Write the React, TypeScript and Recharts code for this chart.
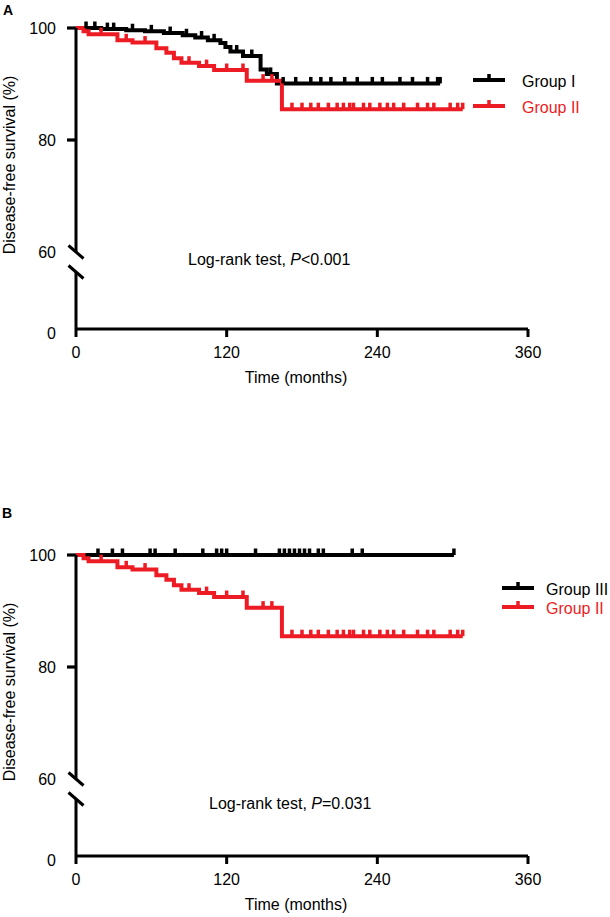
import { ComposedChart, Line, Scatter, XAxis, YAxis, Legend } from "recharts";

// axis ticks
const xTicks = [0, 120, 240, 360];
const yTickLabels = [0, 60, 80, 100];
const BREAK_AT = 60;
const LOWER_SPAN = 13.75; // axis units the 0–60 stub takes below the break

// Group I (panel A, black)
const group1Time = [0, 20, 40, 55, 70, 85, 95, 105, 115, 119, 123, 133, 147, 152, 160, 290];
const group1Surv = [100, 99.8, 99.6, 99.4, 99.1, 98.7, 98.3, 97.8, 97.3, 96.6, 95.8, 95.0, 92.6, 91.8, 90.1, 90.1];
const group1Censor = [8, 15, 25, 30, 45, 60, 75, 88, 100, 110, 128, 140, 155, 165, 175, 187, 195, 203, 214, 224, 236, 244, 258, 268, 280, 288, 290];

// Group II (both panels, red)
const group2Time = [0, 6, 10, 33, 45, 64, 72, 78, 84, 98, 110, 136, 164, 308];
const group2Surv = [100, 99.4, 98.9, 97.8, 97.4, 96.4, 95.6, 94.6, 93.8, 93.2, 92.5, 90.6, 85.5, 85.5];
const group2Censor = [20, 40, 55, 90, 104, 120, 133, 149, 156, 172, 180, 187, 193, 201, 208, 213, 218, 221, 229, 234, 242, 248, 253, 261, 272, 280, 285, 298, 304, 308];

// Group III (panel B, black)
const group3Time = [0, 301];
const group3Surv = [100, 100];
const group3Censor = [17.5, 29, 37, 59, 63, 79, 101, 112, 116, 120, 143, 162, 166, 170, 174, 178, 182, 186, 193, 197, 220, 228, 301];

const RED = "#ED1C24";
const FONT = "'Liberation Sans', Arial, sans-serif";
const PLOT_LEFT = 76; // margin.left + YAxis width

const toAxis = (v: number) =>
  v >= BREAK_AT ? v : BREAK_AT - ((BREAK_AT - v) * LOWER_SPAN) / BREAK_AT;
const yTickPos = yTickLabels.map(toAxis);

const steps = (times: number[], surv: number[]) =>
  times.map((t, i) => ({ t, s: toAxis(surv[i]) }));

const censorPoints = (times: number[], surv: number[], censor: number[]) =>
  censor.map((c) => {
    let s = surv[0];
    times.forEach((t, i) => {
      if (t <= c) s = surv[i];
    });
    return { t: c, s: toAxis(s) };
  });

interface Series {
  name: string;
  color: string;
  times: number[];
  surv: number[];
  censor: number[];
}

// y tick: label + tick mark, with the axis break drawn at the 60 tick
function YTick(props: any) {
  const { y, payload } = props;
  const axisX = PLOT_LEFT;
  const idx = yTickPos.findIndex((p) => Math.abs(p - payload.value) < 1e-6);
  const label = yTickLabels[idx];
  return (
    <g>
      {label !== 0 && label !== BREAK_AT && (
        <rect x={axisX - 9} y={y - 1.6} width={9} height={3.2} fill="#000" stroke="none" />
      )}
      {label === BREAK_AT && (
        <g>
          <rect x={axisX - 3} y={y} width={6} height={20} fill="#fff" stroke="none" />
          <line x1={axisX - 7.5} y1={y - 6.5} x2={axisX + 7.5} y2={y + 6.5} stroke="#000" strokeWidth={3} />
          <line x1={axisX - 7.5} y1={y + 13.5} x2={axisX + 7.5} y2={y + 26.5} stroke="#000" strokeWidth={3} />
        </g>
      )}
      <text
        x={axisX - 20}
        y={y + (label === 0 ? 4 : 0)}
        dy="0.355em"
        textAnchor="end"
        fontSize={16}
        fontFamily={FONT}
        fill="#000"
        stroke="none"
      >
        {label}
      </text>
    </g>
  );
}

const censorShape = (color: string) => (p: any) =>
  <rect x={p.cx - 1.75} y={p.cy - 6.5} width={3.5} height={6.5} fill={color} />;

function LegendBox({ series, lineX, textX, rowYs }: { series: Series[]; lineX: number; textX: number; rowYs: number[] }) {
  return (
    <div style={{ position: "relative", width: 140, height: 60, fontFamily: FONT }}>
      {series.map((s, i) => (
        <div key={s.name}>
          <svg
            width={32}
            height={16}
            style={{ position: "absolute", left: 0, top: rowYs[i] - rowYs[0] }}
          >
            <line x1={0} x2={32} y1={9} y2={9} stroke={s.color} strokeWidth={4} />
            <rect x={14.25} y={3} width={3.5} height={6} fill={s.color} />
          </svg>
          <div
            style={{
              position: "absolute",
              left: textX - lineX,
              top: rowYs[i] - rowYs[0] + 3,
              fontSize: 16,
              lineHeight: "16px",
              color: s.color,
              whiteSpace: "nowrap",
            }}
          >
            {s.name}
          </div>
        </div>
      ))}
    </div>
  );
}

function Panel({
  series,
  legendX,
  legendTextX,
  legendYs,
}: {
  series: Series[];
  legendX: number;
  legendTextX: number;
  legendYs: number[];
}) {
  return (
    <ComposedChart width={610} height={390} margin={{ top: 28, right: 82, bottom: 1, left: 16 }}>
      <XAxis
        dataKey="t"
        type="number"
        domain={[0, 360]}
        ticks={xTicks}
        interval={0}
        height={60}
        axisLine={{ stroke: "#000", strokeWidth: 3 }}
        tickLine={{ stroke: "#000", strokeWidth: 3 }}
        tickSize={8}
        tickMargin={10}
        tick={{ fontSize: 16, fill: "#000", fontFamily: FONT }}
        label={{
          content: () => (
            <text x={296} y={383} textAnchor="middle" fontSize={16} fontFamily={FONT} fill="#000">
              Time (months)
            </text>
          ),
        }}
      />
      <YAxis
        dataKey="s"
        type="number"
        domain={[yTickPos[0], 100]}
        ticks={yTickPos}
        interval={0}
        width={60}
        axisLine={{ stroke: "#000", strokeWidth: 3 }}
        tickLine={false}
        tickSize={8}
        tickMargin={12}
        tick={<YTick />}
        label={{
          content: () => (
            <text
              x={15}
              y={165}
              transform="rotate(-90 15 165)"
              textAnchor="middle"
              fontSize={16}
              fontFamily={FONT}
              fill="#000"
            >
              Disease-free survival (%)
            </text>
          ),
        }}
      />
      {series.map((s) => (
        <Line
          key={s.name + "-line"}
          data={steps(s.times, s.surv)}
          dataKey="s"
          type="stepAfter"
          stroke={s.color}
          strokeWidth={4}
          dot={false}
          isAnimationActive={false}
        />
      ))}
      {series.map((s) => (
        <Scatter
          key={s.name + "-censor"}
          data={censorPoints(s.times, s.surv, s.censor)}
          dataKey="s"
          shape={censorShape(s.color)}
          isAnimationActive={false}
        />
      ))}
      <Legend
        layout="vertical"
        align="center"
        verticalAlign="middle"
        wrapperStyle={{ left: legendX, top: legendYs[0] - 9, width: 140, height: 60 }}
        content={() => (
          <LegendBox series={series} lineX={legendX} textX={legendTextX} rowYs={legendYs} />
        )}
      />
    </ComposedChart>
  );
}

const seriesA: Series[] = [
  { name: "Group I", color: "#000", times: group1Time, surv: group1Surv, censor: group1Censor },
  { name: "Group II", color: RED, times: group2Time, surv: group2Surv, censor: group2Censor },
];

const seriesB: Series[] = [
  { name: "Group III", color: "#000", times: group3Time, surv: group3Surv, censor: group3Censor },
  { name: "Group II", color: RED, times: group2Time, surv: group2Surv, censor: group2Censor },
];

const textStyle = {
  position: "absolute" as const,
  fontFamily: FONT,
  fontSize: 16,
  lineHeight: "16px",
  color: "#000",
  whiteSpace: "nowrap" as const,
};

export default function App() {
  return (
    <div style={{ position: "absolute", left: 0, top: 0, width: 610, height: 917, background: "#fff" }}>
      <div style={{ ...textStyle, left: 3, top: 2, fontSize: 14, fontWeight: "bold" }}>A</div>
      <div style={{ position: "absolute", left: 0, top: 0 }}>
        <Panel series={seriesA} legendX={473} legendTextX={522} legendYs={[80, 106]} />
      </div>
      <div style={{ ...textStyle, left: 188, top: 252 }}>
        Log-rank test, <i>P</i>&lt;0.001
      </div>

      <div style={{ ...textStyle, left: 2, top: 505, fontSize: 14, fontWeight: "bold" }}>B</div>
      <div style={{ position: "absolute", left: 0, top: 527 }}>
        <Panel series={seriesB} legendX={502} legendTextX={546} legendYs={[61, 80]} />
      </div>
      <div style={{ ...textStyle, left: 209, top: 796 }}>
        Log-rank test, <i>P</i>=0.031
      </div>
    </div>
  );
}
